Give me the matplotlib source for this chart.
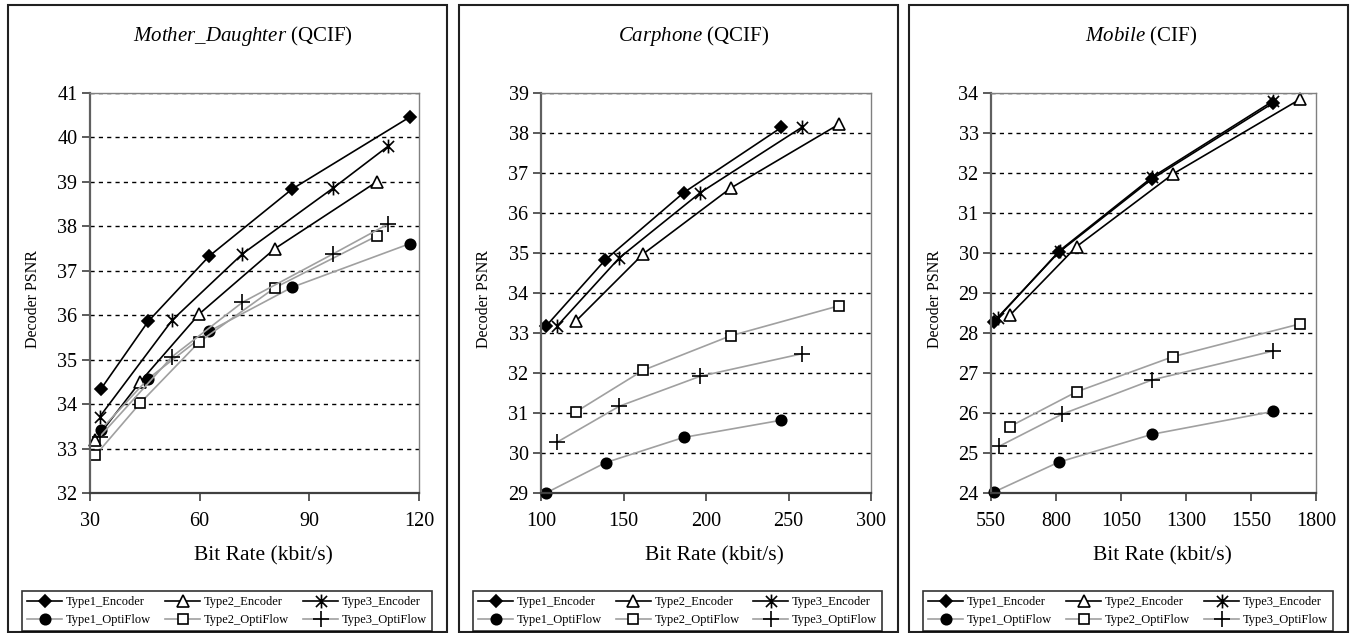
import matplotlib
matplotlib.use("Agg")
import matplotlib.pyplot as plt
from matplotlib.patches import Rectangle
from matplotlib.path import Path

plt.rcParams['font.family'] = ['Liberation Serif', 'DejaVu Serif']
plt.rcParams['mathtext.fontset'] = 'custom'
plt.rcParams['mathtext.rm'] = 'Liberation Serif'
plt.rcParams['mathtext.it'] = 'Liberation Serif:italic'

series_names = ['Type1_Encoder', 'Type2_Encoder', 'Type3_Encoder',
                'Type1_OptiFlow', 'Type2_OptiFlow', 'Type3_OptiFlow']

# Mother_Daughter (QCIF)
md_rate = {
    'Type1_Encoder': [32.9, 45.9, 62.6, 85.3, 117.5],
    'Type2_Encoder': [31.5, 43.7, 59.9, 80.6, 108.4],
    'Type3_Encoder': [32.7, 52.5, 71.7, 96.5, 111.5],
    'Type1_OptiFlow': [32.9, 45.9, 62.6, 85.3, 117.5],
    'Type2_OptiFlow': [31.5, 43.7, 59.9, 80.6, 108.4],
    'Type3_OptiFlow': [32.7, 52.5, 71.7, 96.5, 111.5],
}
md_psnr = {
    'Type1_Encoder': [34.33, 35.86, 37.33, 38.84, 40.46],
    'Type2_Encoder': [33.20, 34.50, 36.03, 37.50, 39.00],
    'Type3_Encoder': [33.72, 35.89, 37.38, 38.86, 39.80],
    'Type1_OptiFlow': [33.42, 34.57, 35.64, 36.63, 37.61],
    'Type2_OptiFlow': [32.85, 34.02, 35.40, 36.62, 37.78],
    'Type3_OptiFlow': [33.27, 35.07, 36.29, 37.38, 38.05],
}

# Carphone (QCIF)
cp_rate = {
    'Type1_Encoder': [103.0, 139.0, 186.5, 245.7],
    'Type2_Encoder': [121.2, 162.0, 214.9, 280.6],
    'Type3_Encoder': [109.7, 147.5, 196.6, 258.0],
    'Type1_OptiFlow': [103.0, 139.2, 186.5, 245.7],
    'Type2_OptiFlow': [121.2, 162.0, 214.9, 280.6],
    'Type3_OptiFlow': [109.7, 147.5, 196.6, 258.0],
}
cp_psnr = {
    'Type1_Encoder': [33.17, 34.83, 36.51, 38.14],
    'Type2_Encoder': [33.30, 34.98, 36.62, 38.22],
    'Type3_Encoder': [33.17, 34.88, 36.51, 38.14],
    'Type1_OptiFlow': [29.00, 29.76, 30.39, 30.82],
    'Type2_OptiFlow': [31.03, 32.07, 32.93, 33.68],
    'Type3_OptiFlow': [30.27, 31.17, 31.92, 32.48],
}

# Mobile (CIF)
mb_rate = {
    'Type1_Encoder': [560, 811, 1171, 1635],
    'Type2_Encoder': [622, 879, 1251, 1740],
    'Type3_Encoder': [577, 814, 1171, 1635],
    'Type1_OptiFlow': [560, 810, 1171, 1635],
    'Type2_OptiFlow': [622, 879, 1251, 1740],
    'Type3_OptiFlow': [582, 823, 1171, 1635],
}
mb_psnr = {
    'Type1_Encoder': [28.28, 30.02, 31.86, 33.75],
    'Type2_Encoder': [28.44, 30.16, 31.98, 33.85],
    'Type3_Encoder': [28.38, 30.06, 31.90, 33.80],
    'Type1_OptiFlow': [24.02, 24.77, 25.47, 26.04],
    'Type2_OptiFlow': [25.66, 26.53, 27.41, 28.23],
    'Type3_OptiFlow': [25.17, 25.97, 26.83, 27.55],
}

titles = [r'$\mathit{Mother\_Daughter}$ (QCIF)', r'$\mathit{Carphone}$ (QCIF)', r'$\mathit{Mobile}$ (CIF)']
x_ticks = [[30, 60, 90, 120], [100, 150, 200, 250, 300], [550, 800, 1050, 1300, 1550, 1800]]
y_ticks = [list(range(32, 42)), list(range(29, 40)), list(range(24, 35))]
datasets = [(md_rate, md_psnr), (cp_rate, cp_psnr), (mb_rate, mb_psnr)]

# Excel-style star: an X with a vertical bar through it
star = Path([(0, -1), (0, 1), (-0.8, -0.8), (0.8, 0.8), (-0.8, 0.8), (0.8, -0.8)],
            [Path.MOVETO, Path.LINETO] * 3)

styles = {
    'Type1_Encoder': dict(color='black', marker='D', ms=6.5, mfc='black', mec='black'),
    'Type2_Encoder': dict(color='black', marker='^', ms=8.5, mfc='white', mec='black'),
    'Type3_Encoder': dict(color='black', marker=star, ms=10, mfc='none', mec='black'),
    'Type1_OptiFlow': dict(color='#a0a0a0', marker='o', ms=7.5, mfc='black', mec='black'),
    'Type2_OptiFlow': dict(color='#a0a0a0', marker='s', ms=7.5, mfc='white', mec='black'),
    'Type3_OptiFlow': dict(color='#a0a0a0', marker='+', ms=11, mfc='black', mec='black'),
}

# legend fills column by column, so order entries to read row by row
legend_order = ['Type1_Encoder', 'Type1_OptiFlow', 'Type2_Encoder',
                'Type2_OptiFlow', 'Type3_Encoder', 'Type3_OptiFlow']

W, H = 1350, 633
fig = plt.figure(figsize=(W / 100, H / 100), dpi=100)

axes_px = [(90, 419), (541, 871), (991, 1316)]
box_px = [(8, 447), (459, 898), (909, 1348)]
legend_px = [(22, 432), (473, 882), (923, 1333)]
ax_top, ax_bottom = 93, 493

for i in range(3):
    rate, psnr = datasets[i]
    l, r = axes_px[i]
    ax = fig.add_axes([l / W, 1 - ax_bottom / H, (r - l) / W, (ax_bottom - ax_top) / H])
    handles = {}
    for name in series_names:
        h, = ax.plot(rate[name], psnr[name], lw=1.2, mew=1.2, clip_on=False, **styles[name])
        handles[name] = h
    ax.set_xlim(x_ticks[i][0], x_ticks[i][-1])
    ax.set_ylim(y_ticks[i][0], y_ticks[i][-1])
    ax.set_xticks(x_ticks[i])
    ax.set_yticks(y_ticks[i])
    ax.tick_params(labelsize=14.5, direction='out', length=6, width=1.2, color='#404040')
    ax.tick_params(axis='x', pad=8)
    ax.tick_params(axis='y', pad=3)
    ax.set_axisbelow(True)
    ax.yaxis.grid(True, linestyle=(0, (3, 3)), color='black', lw=1)
    ax.spines['left'].set_color('#606060')
    ax.spines['left'].set_linewidth(1.6)
    ax.spines['bottom'].set_color('#404040')
    ax.spines['bottom'].set_linewidth(1.6)
    for s in ('top', 'right'):
        ax.spines[s].set_color('#808080')
        ax.spines[s].set_linewidth(1.0)

    ax.text(0.527, -0.1575, 'Bit Rate (kbit/s)', transform=ax.transAxes,
            ha='center', va='center', fontsize=15.5)
    ax.text(-0.173, 0.485, 'Decoder PSNR', transform=ax.transAxes, rotation=90,
            ha='center', va='center', fontsize=11.5)
    fig.text(((l + r) / 2 - 12) / W, 1 - 36 / H, titles[i], ha='center', va='center', fontsize=15)

    b0, b1 = box_px[i]
    fig.add_artist(Rectangle((b0 / W, 1 - 632 / H), (b1 - b0) / W, 627 / H,
                             transform=fig.transFigure, fill=False, ec='#202020', lw=1.5))

    g0, g1 = legend_px[i]
    leg = fig.legend([handles[n] for n in legend_order], legend_order, loc='lower left',
                     bbox_to_anchor=(g0 / W, 1 - 631 / H, (g1 - g0) / W, 46 / H),
                     bbox_transform=fig.transFigure, mode='expand', ncol=3,
                     fontsize=9, frameon=True, fancybox=False, borderaxespad=0,
                     handlelength=2.8, handletextpad=0.3, borderpad=0.4,
                     labelspacing=0.45, columnspacing=1.0)
    leg.get_frame().set_edgecolor('black')
    leg.get_frame().set_linewidth(1.2)

fig.savefig('out.png', dpi=100)
